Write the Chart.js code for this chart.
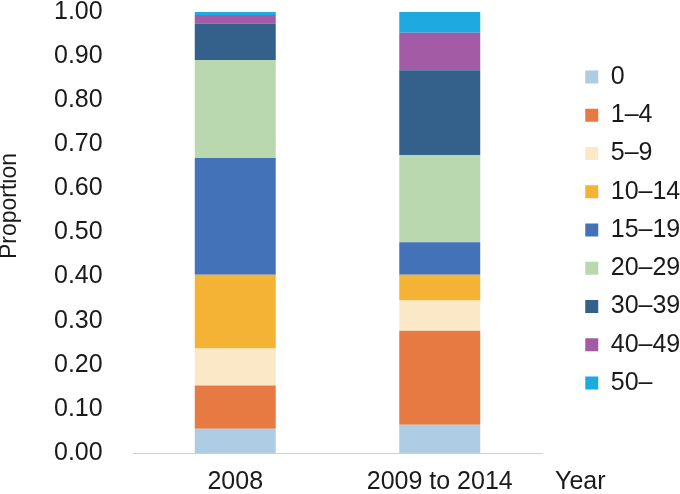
<!DOCTYPE html>
<html>
<head>
<meta charset="utf-8">
<script src="https://cdn.jsdelivr.net/npm/chart.js@4"></script>
<style>
  html, body { margin: 0; padding: 0; background: #fff; }
</style>
</head>
<body>
<canvas id="canvas" width="680" height="494"></canvas>
<script>
let years = ["2008", "2009 to 2014"];
let ageGroups = ["0", "1–4", "5–9", "10–14", "15–19", "20–29", "30–39", "40–49", "50–"];
let share2008 = [0.055, 0.098, 0.084, 0.167, 0.265, 0.222, 0.083, 0.019, 0.007];
let share2009to2014 = [0.064, 0.213, 0.069, 0.058, 0.074, 0.198, 0.192, 0.085, 0.047];
let groupColors = ["#AECCE4", "#E67A42", "#FBE8C7", "#F5B335", "#4472B8", "#B9D8AF", "#33618C", "#A45BA5", "#1EAAE0"];
let yTicks = [0, 0.1, 0.2, 0.3, 0.4, 0.5, 0.6, 0.7, 0.8, 0.9, 1.0];

let fontFamily = "'Liberation Sans', Arial, sans-serif";
let textColor = "#1a1a1a";

// legend and axis titles are placed by hand to line up with the original
let placeExtras = {
    id: "placeExtras",
    afterLayout: (chart) => {
        let lg = chart.legend;
        let w = lg.width, h = lg.height;
        lg.left = 572;
        lg.right = lg.left + w;
        lg.top = 51.25;
        lg.bottom = lg.top + h;
    },
    afterDraw: (chart) => {
        let ctx = chart.ctx;
        ctx.save();
        ctx.fillStyle = textColor;
        ctx.textBaseline = "middle";
        ctx.textAlign = "left";
        ctx.font = "25px " + fontFamily;
        ctx.fillText("Year", 555, 482.5);
        ctx.font = "23px " + fontFamily;
        ctx.translate(10, 206);
        ctx.rotate(-Math.PI / 2);
        ctx.textAlign = "center";
        ctx.fillText("Proportion", 0, 0);
        ctx.restore();
    }
};

new Chart(document.getElementById("canvas").getContext("2d"), {
    type: "bar",
    data: {
        labels: years,
        datasets: ageGroups.map((g, i) => ({
            label: g,
            data: [share2008[i], share2009to2014[i]],
            backgroundColor: groupColors[i],
            borderWidth: 0,
            categoryPercentage: 1,
            barPercentage: 0.396
        }))
    },
    options: {
        responsive: false,
        animation: false,
        devicePixelRatio: 1,
        layout: { padding: { left: 54, right: 138, top: 0, bottom: 0 } },
        plugins: {
            legend: {
                position: "chartArea",
                align: "start",
                labels: {
                    boxWidth: 13,
                    boxHeight: 13,
                    padding: 13.25,
                    color: textColor,
                    font: { family: fontFamily, size: 25 }
                }
            },
            tooltip: { enabled: false }
        },
        scales: {
            x: {
                stacked: true,
                grid: { display: false, drawTicks: false },
                border: { display: true, color: "#cfcfcf", width: 1 },
                ticks: {
                    padding: 14.5,
                    color: textColor,
                    font: { family: fontFamily, size: 25 }
                },
                afterFit: (scale) => { scale.height = 41; }
            },
            y: {
                stacked: true,
                min: 0,
                max: 1,
                grid: { display: false, drawTicks: false },
                border: { display: false },
                afterBuildTicks: (scale) => { scale.ticks = yTicks.map((v) => ({ value: v })); },
                ticks: {
                    padding: 0,
                    crossAlign: "far",
                    color: textColor,
                    font: { family: fontFamily, size: 25, lineHeight: 0.96 },
                    callback: (v) => v.toFixed(2)
                },
                afterFit: (scale) => { scale.width = 133 - 54; }
            }
        }
    },
    plugins: [placeExtras]
});
</script>
</body>
</html>
